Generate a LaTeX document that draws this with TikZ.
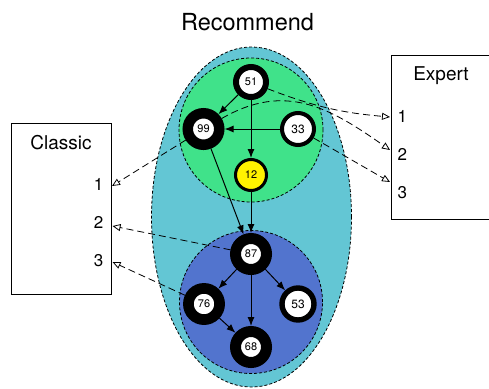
\documentclass[tikz,border=0pt]{standalone}
\usepackage{fontspec}
\setmainfont{TeX Gyre Heros}
\usetikzlibrary{arrows.meta}
\definecolor{cyanfill}{RGB}{99,198,212}
\definecolor{greenfill}{RGB}{64,226,138}
\definecolor{bluefill}{RGB}{82,116,206}
\begin{document}
\begin{tikzpicture}[x=1pt,y=1pt,
  ring/.style={circle, draw=black, fill=white, inner sep=0pt, font=\fontsize{11}{13}\selectfont},
  solidarrow/.style={-{Latex[length=9pt,width=7pt]}, line width=1pt},
  dasharrow/.style={-{Triangle[open,length=8pt,width=7pt]}, line width=0.8pt, dash pattern=on 7pt off 4pt},
  region/.style={draw=black, line width=0.8pt, dash pattern=on 3pt off 2pt},
  panel/.style={draw=black, line width=0.8pt, inner sep=0pt},
  panellabel/.style={font=\fontsize{19}{22}\selectfont},
  slot/.style={font=\fontsize{17}{20}\selectfont, inner sep=0pt}
]
\useasboundingbox (0,0) rectangle (489,-388);
\node[font=\fontsize{23.5}{28}\selectfont] (title) at (247.5,-22) {Recommend};
\draw[region, fill=cyanfill] (251.5,-217) ellipse [x radius=100, y radius=170];
\draw[region, fill=greenfill] (251,-130) circle [radius=72];
\draw[region, fill=bluefill] (251,-302) circle [radius=71.5];

% panels
\node[panel, anchor=north west, minimum width=100pt, minimum height=171pt] (classic) at (11,-123) {};
\node[panellabel] (classictitle) at (61,-143) {Classic};
\node[slot, anchor=east] (cl1) at (103.5,-184) {1};
\node[slot, anchor=east] (cl2) at (103.5,-222) {2};
\node[slot, anchor=east] (cl3) at (103.5,-261) {3};
\node[panel, anchor=north west, minimum width=101pt, minimum height=164pt] (expert) at (391,-55) {};
\node[panellabel] (experttitle) at (441,-76) {Expert};
\node[slot, anchor=west] (ex1) at (397.5,-116) {1};
\node[slot, anchor=west] (ex2) at (397.5,-154) {2};
\node[slot, anchor=west] (ex3) at (397.5,-193) {3};

\coordinate (c1) at (112,-186);
\coordinate (c2) at (112.5,-226);
\coordinate (c3) at (112.5,-262);
\coordinate (e1) at (390,-117);
\coordinate (e2) at (390,-150);
\coordinate (e3) at (390,-182);

% nodes
\node[ring, line width=6pt, minimum size=30pt] (n51) at (251,-82) {51};
\node[ring, line width=10.5pt, minimum size=31.5pt] (n99) at (203.5,-129) {99};
\node[ring, line width=4pt, minimum size=32pt, font=\fontsize{12}{14}\selectfont] (n33) at (298,-129) {33};
\node[ring, line width=3pt, minimum size=31pt, fill=yellow] (n12) at (251,-175) {12};
\node[ring, line width=11pt, minimum size=31pt] (n87) at (251,-254) {87};
\node[ring, line width=10.7pt, minimum size=31.2pt] (n76) at (204,-304) {76};
\node[ring, line width=5.4pt, minimum size=32pt, font=\fontsize{12}{14}\selectfont] (n53) at (298,-304) {53};
\node[ring, line width=11pt, minimum size=31pt] (n68) at (251,-347) {68};

% solid arrows
\draw[solidarrow] (n51) -- (n99);
\draw[solidarrow] (n51) -- (n12);
\draw[solidarrow] (n33) -- (n99);
\draw[solidarrow] (n99) -- (n87);
\draw[solidarrow] (n12) -- (n87);
\draw[solidarrow] (n87) -- (n76);
\draw[solidarrow] (n87) -- (n53);
\draw[solidarrow] (n87) -- (n68);
\draw[solidarrow] (n76) -- (n68);

% dashed arrows
\draw[dasharrow] (n99) -- (c1);
\draw[dasharrow] (n87) -- (c2);
\draw[dasharrow] (n76) -- (c3);
\draw[dasharrow] (n51) to[bend right=8] (e1);
\draw[dasharrow] (n99) to[out=30,in=145,looseness=1.1] (e2);
\draw[dasharrow] (n33) -- (e3);
\end{tikzpicture}
\end{document}
